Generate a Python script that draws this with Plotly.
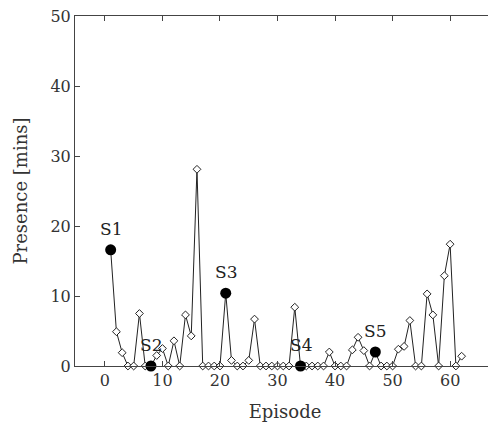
import plotly.graph_objects as go

episodes = list(range(1, 63))
presence = [16.6, 4.9, 1.9, 0, 0, 7.5, 0, 0, 1.5, 2.5,
            0, 3.6, 0, 7.3, 4.3, 28.1, 0, 0, 0, 0,
            10.4, 0.8, 0, 0, 0.8, 6.7, 0, 0, 0, 0,
            0, 0, 8.4, 0, 0, 0, 0, 0, 2.0, 0,
            0, 0, 2.3, 4.1, 2.2, 0, 2.0, 0, 0, 0,
            2.4, 2.8, 6.5, 0, 0, 10.3, 7.3, 0, 12.9, 17.4,
            0, 1.4]
session_labels = ["S1", "S2", "S3", "S4", "S5"]
session_episodes = [1, 8, 21, 34, 47]
session_values = [presence[e - 1] for e in session_episodes]

font = "DejaVu Serif"
fig = go.Figure()
fig.add_trace(go.Scatter(
    x=episodes, y=presence, mode="lines+markers",
    line=dict(color="#222", width=1),
    marker=dict(symbol="diamond", size=6, color="white",
                line=dict(color="#222", width=1)),
    cliponaxis=False, showlegend=False))
fig.add_trace(go.Scatter(
    x=session_episodes, y=session_values, mode="markers",
    marker=dict(symbol="circle", size=11, color="black"),
    cliponaxis=False, showlegend=False))
for lab, ex, ev in zip(session_labels, session_episodes, session_values):
    fig.add_annotation(x=ex, y=ev, text=lab, showarrow=False,
                       yshift=21, font=dict(family=font, size=17, color="#222"))

axis_common = dict(showline=True, linecolor="#444", linewidth=1, mirror="ticks",
                   ticks="inside", ticklen=5, tickcolor="#444", showgrid=False,
                   zeroline=False, automargin=False, ticklabeloverflow="allow",
                   tickfont=dict(family=font, size=16, color="#333"))
fig.update_xaxes(range=[-5.2, 67.8], dtick=10, tick0=0,
                 title=dict(text="Episode", font=dict(family=font, size=18, color="#333"), standoff=16),
                 **axis_common)
fig.update_yaxes(range=[0, 50], dtick=10, tick0=0,
                 title=dict(text="Presence [mins]", font=dict(family=font, size=18, color="#333"), standoff=18),
                 **axis_common)
fig.update_layout(width=488, height=418, margin=dict(l=67, r=1, t=8, b=60),
                  plot_bgcolor="white", paper_bgcolor="white")
fig.write_html("out.html")
